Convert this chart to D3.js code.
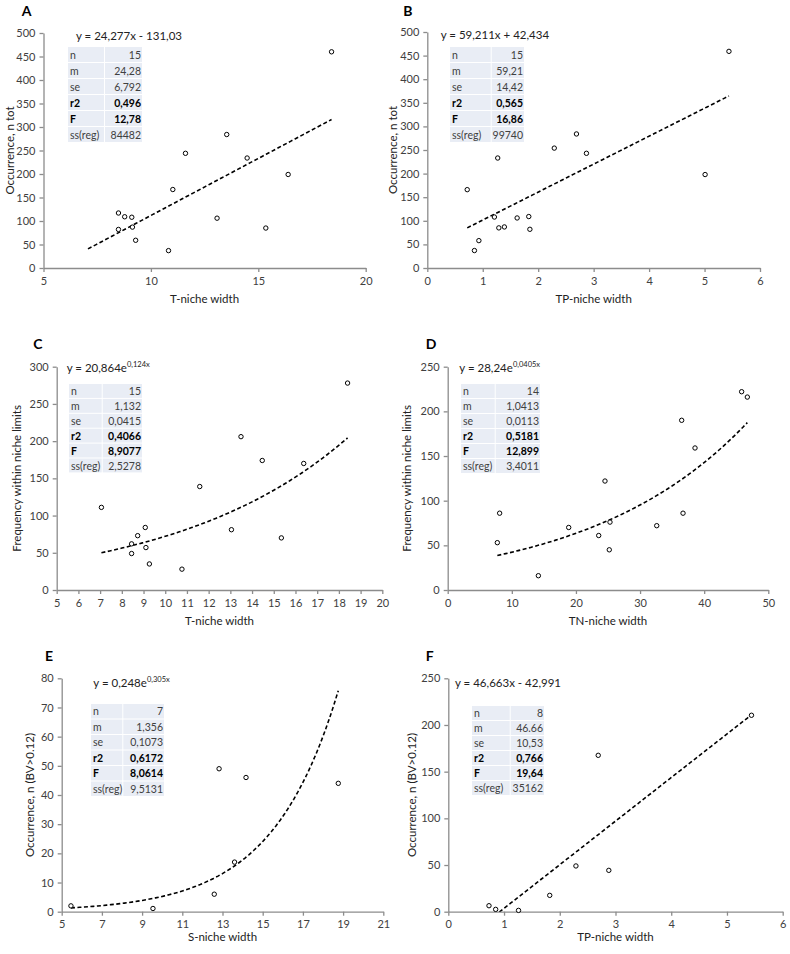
<!DOCTYPE html>
<html>
<head>
<meta charset="utf-8">
<script src="https://cdn.jsdelivr.net/npm/d3@7"></script>
<style>
  body { margin: 0; background: #fff; }
  svg text { font-family: Lato, "Open Sans", sans-serif; }
</style>
</head>
<body>
<svg id="fig" width="790" height="954"></svg>
<script>
// point values
var aX = [8.49, 8.78, 9.11, 8.49, 9.14, 9.29, 10.82, 11.02, 11.61, 13.08, 13.53, 14.48, 15.35, 16.39, 18.41];
var aY = [117, 109, 108, 82, 87, 59, 37, 167, 244, 106, 284, 234, 85, 199, 460];
var bX = [0.72, 0.93, 0.85, 1.21, 1.27, 1.29, 1.39, 1.62, 1.83, 1.85, 2.29, 2.69, 2.87, 5.01, 5.44];
var bY = [166, 58, 37, 108, 233, 85, 87, 106, 109, 82, 254, 284, 243, 198, 459];
var cX = [7.06, 8.45, 8.45, 8.73, 9.08, 9.11, 9.27, 10.77, 11.59, 13.05, 13.49, 14.47, 15.35, 16.38, 18.40];
var cY = [111, 62, 49, 73, 84, 57, 35, 28, 139, 81, 206, 174, 70, 170, 278];
var dX = [7.74, 8.1, 14.14, 18.87, 23.55, 24.53, 25.31, 25.2, 32.6, 36.49, 36.7, 38.57, 45.84, 46.73];
var dY = [53, 86, 16, 70, 61, 122, 76, 45, 72, 190, 86, 159, 222, 216];
var eX = [5.46, 9.54, 12.59, 12.83, 13.6, 14.17, 18.76];
var eY = [2, 1.1, 6, 49, 17, 46, 44];
var fX = [0.73, 0.85, 1.26, 1.82, 2.29, 2.69, 2.88, 5.44];
var fY = [6.4, 2.5, 1.4, 17.5, 49, 167.5, 44.3, 210.4];

// trendline coefficients [a, b] : linear y=a*x+b, exp y=a*e^(b*x)
var aFit = [24.277, -131.03], bFit = [59.211, 42.434], cFit = [20.864, 0.124];
var dFit = [28.24, 0.0405], eFit = [0.248, 0.305], fFit = [46.663, -42.991];

// stats boxes
var aStats = [["n", "15"], ["m", "24,28"], ["se", "6,792"], ["r2", "0,496"], ["F", "12,78"], ["ss(reg)", "84482"]];
var bStats = [["n", "15"], ["m", "59,21"], ["se", "14,42"], ["r2", "0,565"], ["F", "16,86"], ["ss(reg)", "99740"]];
var cStats = [["n", "15"], ["m", "1,132"], ["se", "0,0415"], ["r2", "0,4066"], ["F", "8,9077"], ["ss(reg)", "2,5278"]];
var dStats = [["n", "14"], ["m", "1,0413"], ["se", "0,0113"], ["r2", "0,5181"], ["F", "12,899"], ["ss(reg)", "3,4011"]];
var eStats = [["n", "7"], ["m", "1,356"], ["se", "0,1073"], ["r2", "0,6172"], ["F", "8,0614"], ["ss(reg)", "9,5131"]];
var fStats = [["n", "8"], ["m", "46.66"], ["se", "10,53"], ["r2", "0,766"], ["F", "19,64"], ["ss(reg)", "35162"]];

var panels = [
  { id: "A", xs: aX, ys: aY, fit: aFit, type: "lin", fitFrom: 7.07, stats: aStats,
    eq: "y = 24,277x - 131,03", xDom: [5, 20], xStep: 5, yDom: [0, 500], yStep: 50,
    xLab: "T-niche width", yLab: "Occurrence, n tot",
    box: [43.5, 365.7, 33, 268], letter: [21.7, 16], eqPos: [76, 40], xLabY: 303, yLabX: 10,
    tab: [68, 105, 142, 47, 16] },
  { id: "B", xs: bX, ys: bY, fit: bFit, type: "lin", stats: bStats,
    eq: "y = 59,211x + 42,434", xDom: [0, 6], xStep: 1, yDom: [0, 500], yStep: 50,
    xLab: "TP-niche width", yLab: "Occurrence, n tot",
    box: [427.3, 760, 32, 268], letter: [403.3, 16], eqPos: [440.7, 39], xLabY: 303, yLabX: 393,
    tab: [450, 491.7, 524, 47, 16] },
  { id: "C", xs: cX, ys: cY, fit: cFit, type: "exp", stats: cStats,
    eq: ["y = 20,864e", "0,124x"], xDom: [5, 20], xStep: 1, yDom: [0, 300], yStep: 50,
    xLab: "T-niche width", yLab: "Frequency within niche limits",
    box: [56.7, 382.3, 366.7, 590], letter: [33.3, 349], eqPos: [66.7, 372], xLabY: 625, yLabX: 17,
    tab: [69, 102.7, 142, 384, 14.9] },
  { id: "D", xs: dX, ys: dY, fit: dFit, type: "exp", stats: dStats,
    eq: ["y = 28,24e", "0,0405x"], xDom: [0, 50], xStep: 10, yDom: [0, 250], yStep: 50,
    xLab: "TN-niche width", yLab: "Frequency within niche limits",
    box: [447.7, 768.3, 366.7, 590], letter: [425.7, 349], eqPos: [459.3, 372], xLabY: 625, yLabX: 407,
    tab: [461, 495.7, 540, 384, 15] },
  { id: "E", xs: eX, ys: eY, fit: eFit, type: "exp", stats: eStats,
    eq: ["y = 0,248e", "0,305x"], xDom: [5, 21], xStep: 2, yDom: [0, 80], yStep: 10,
    xLab: "S-niche width", yLab: "Occurrence, n (BV>0.12)",
    box: [61.7, 383.3, 678.3, 911.7], letter: [45, 661], eqPos: [93.3, 687], xLabY: 941, yLabX: 30,
    tab: [91, 123.3, 164, 704, 15.5] },
  { id: "F", xs: fX, ys: fY, fit: fFit, type: "lin", stats: fStats,
    eq: "y = 46,663x - 42,991", xDom: [0, 6], xStep: 1, yDom: [0, 250], yStep: 50,
    xLab: "TP-niche width", yLab: "Occurrence, n (BV>0.12)",
    box: [448.3, 782.7, 678.3, 911.7], letter: [425.7, 661], eqPos: [455, 687], xLabY: 941, yLabX: 412,
    tab: [472, 510.7, 544, 706, 15] }
];

var svg = d3.select("#fig");
var axisColor = "#8c8c8c";

panels.forEach(function (p, i) {
  var g = svg.append("g");
  var x = d3.scaleLinear().domain(p.xDom).range([p.box[0], p.box[1]]);
  var y = d3.scaleLinear().domain(p.yDom).range([p.box[3], p.box[2]]);

  // clip so the trendline stays inside the plot
  svg.append("clipPath").attr("id", "clip" + i)
    .append("rect")
    .attr("x", p.box[0]).attr("y", p.box[2])
    .attr("width", p.box[1] - p.box[0]).attr("height", p.box[3] - p.box[2]);

  var xAxis = d3.axisBottom(x)
    .tickValues(d3.range(p.xDom[0], p.xDom[1] + 0.001, p.xStep))
    .tickSize(4).tickSizeOuter(0).tickPadding(5)
    .tickFormat(d3.format("d"));
  var yAxis = d3.axisLeft(y)
    .tickValues(d3.range(p.yDom[0], p.yDom[1] + 0.001, p.yStep))
    .tickSize(4).tickSizeOuter(0).tickPadding(4)
    .tickFormat(d3.format("d"));

  var gx = g.append("g").attr("transform", "translate(0," + p.box[3] + ")").call(xAxis);
  var gy = g.append("g").attr("transform", "translate(" + p.box[0] + ",0)").call(yAxis);
  [gx, gy].forEach(function (a) {
    a.select(".domain").attr("stroke", axisColor).attr("stroke-width", 1.3);
    a.selectAll(".tick line").attr("stroke", axisColor).attr("stroke-width", 1.3);
    a.selectAll(".tick text").attr("fill", "#404040").style("font-size", "11px");
  });

  // stats table
  var t = p.tab;
  var rows = g.selectAll(".row").data(p.stats).enter().append("g");
  rows.append("rect")
    .attr("x", t[0]).attr("y", function (d, k) { return t[3] + k * t[4]; })
    .attr("width", t[1] - t[0] - 1).attr("height", t[4] - 1)
    .attr("fill", "#e9edf5");
  rows.append("rect")
    .attr("x", t[1]).attr("y", function (d, k) { return t[3] + k * t[4]; })
    .attr("width", t[2] - t[1]).attr("height", t[4] - 1)
    .attr("fill", "#e9edf5");
  rows.append("text")
    .attr("x", t[0] + 2).attr("y", function (d, k) { return t[3] + k * t[4] + t[4] / 2; })
    .attr("dy", "0.35em")
    .style("font-size", "10.5px")
    .style("font-weight", function (d) { return d[0] == "r2" || d[0] == "F" ? "bold" : "normal"; })
    .attr("fill", function (d) { return d[0] == "r2" || d[0] == "F" ? "#000" : "#404040"; })
    .text(function (d) { return d[0]; });
  rows.append("text")
    .attr("x", t[2] - 1).attr("y", function (d, k) { return t[3] + k * t[4] + t[4] / 2; })
    .attr("dy", "0.35em").attr("text-anchor", "end")
    .style("font-size", "10.5px")
    .style("font-weight", function (d) { return d[0] == "r2" || d[0] == "F" ? "bold" : "normal"; })
    .attr("fill", function (d) { return d[0] == "r2" || d[0] == "F" ? "#000" : "#404040"; })
    .text(function (d) { return d[1]; });

  // trendline
  var x0 = p.fitFrom != null ? p.fitFrom : d3.min(p.xs);
  var x1 = d3.max(p.xs);
  var curve = d3.range(0, 61).map(function (k) {
    var xv = x0 + (x1 - x0) * k / 60;
    var yv = p.type == "lin" ? p.fit[0] * xv + p.fit[1] : p.fit[0] * Math.exp(p.fit[1] * xv);
    return [xv, yv];
  });
  g.append("path")
    .datum(curve)
    .attr("clip-path", "url(#clip" + i + ")")
    .attr("fill", "none").attr("stroke", "#000").attr("stroke-width", 1.6)
    .attr("stroke-dasharray", "4,2.5")
    .attr("d", d3.line().x(function (d) { return x(d[0]); }).y(function (d) { return y(d[1]); }));

  // points
  g.selectAll(".pt").data(p.xs).enter().append("circle")
    .attr("cx", function (d) { return x(d); })
    .attr("cy", function (d, k) { return y(p.ys[k]); })
    .attr("r", 2.2)
    .attr("fill", "#fff").attr("stroke", "#000").attr("stroke-width", 1);

  // equation
  var eq = g.append("text").attr("x", p.eqPos[0]).attr("y", p.eqPos[1])
    .style("font-size", "11.5px").attr("fill", "#222");
  if (typeof p.eq == "string") {
    eq.text(p.eq);
  } else {
    eq.append("tspan").text(p.eq[0]);
    eq.append("tspan").attr("dy", -5).style("font-size", "7.5px").text(p.eq[1]);
  }

  // labels
  g.append("text").attr("x", p.letter[0]).attr("y", p.letter[1])
    .style("font-size", "14px").style("font-weight", "bold").text(p.id);
  g.append("text")
    .attr("x", (p.box[0] + p.box[1]) / 2).attr("y", p.xLabY)
    .attr("text-anchor", "middle").style("font-size", "11.5px").attr("fill", "#222")
    .text(p.xLab);
  g.append("text")
    .attr("transform", "translate(" + p.yLabX + "," + (p.box[2] + p.box[3]) / 2 + ") rotate(-90)")
    .attr("text-anchor", "middle").attr("dy", "0.35em")
    .style("font-size", "11.5px").attr("fill", "#222")
    .text(p.yLab);
});
</script>
</body>
</html>
